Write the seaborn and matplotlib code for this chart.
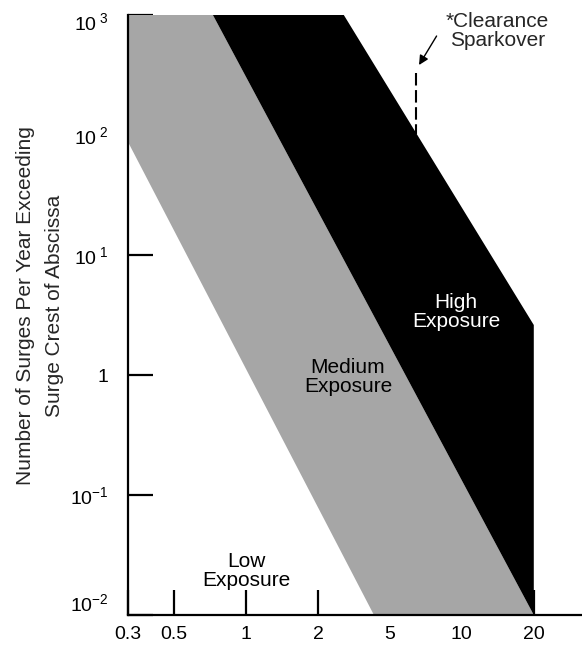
#!/usr/bin/env python3
# -*- coding: utf-8 -*-
"""
Surge exposure chart: number of surges per year exceeding a crest value,
with low / medium / high exposure bands.
"""

import numpy as np
import seaborn as sns
import matplotlib.pyplot as plt
from matplotlib.transforms import ScaledTranslation

# axis ticks
x_ticks = [0.3, 0.5, 1, 2, 5, 10, 20]
x_tick_labels = ['0.3', '0.5', '1', '2', '5', '10', '20']
y_ticks = [1e-2, 1e-1, 1, 1e1, 1e2, 1e3]
y_tick_labels = [r'$10^{-2}$', r'$10^{-1}$', '1',
                 r'$10^{\ 1}$', r'$10^{\ 2}$', r'$10^{\ 3}$']

# band boundaries (surge crest, surges per year)
low_med_x = [0.3, 4.08]
low_med_y = [87.5, 0.01]
med_high_x = [0.727, 20]
med_high_y = [1000, 0.01]
high_edge_x = [2.78, 20, 20]
high_edge_y = [1000, 2.61, 0.01]

# clearance sparkover marker
sparkover_x = [6.44, 6.44]
sparkover_y = [329, 102]
arrow_tail = (7.84, 668)
arrow_head = (6.62, 383)

region_names = ['Low\nExposure', 'Medium\nExposure', 'High\nExposure']
region_x = [1.0, 2.93, 9.45]
region_y = [0.0233, 0.962, 3.35]

# the printed x axis is not a true log axis: 1-2-5-10-20 are evenly spaced
scale_knots = [0.1, 0.3, 0.5, 1, 2, 5, 10, 20, 100]
scale_pos = [-2.0, -0.64, 0, 1, 2, 3, 4, 5, 7.3]


def forward(x):
    with np.errstate(divide='ignore', invalid='ignore'):
        lx = np.log10(np.asarray(x, dtype=float))
    return np.interp(lx, np.log10(scale_knots), scale_pos)


def inverse(p):
    return 10 ** np.interp(p, scale_pos, np.log10(scale_knots))


def main():
    sns.set_style('ticks')
    plt.rcParams['font.family'] = ['Liberation Sans', 'DejaVu Sans']
    plt.rcParams['mathtext.fontset'] = 'custom'
    plt.rcParams['mathtext.rm'] = 'Liberation Sans'
    plt.rcParams['mathtext.it'] = 'Liberation Sans'
    plt.rcParams['mathtext.default'] = 'regular'

    fig = plt.figure(figsize=(5.82, 6.46), dpi=100)
    ax = fig.add_axes([128 / 582, 31 / 646, 454 / 582, 600 / 646])

    ax.set_xscale('function', functions=(forward, inverse))
    ax.set_yscale('log')
    ax.set_xlim(0.3, inverse(5.67))
    ax.set_ylim(1e-2, 1e3)

    # medium band (gray) and high band (black)
    gray_x = [low_med_x[0], 0.3, med_high_x[0], med_high_x[1], low_med_x[1]]
    gray_y = [low_med_y[0], 1000, med_high_y[0], med_high_y[1], low_med_y[1]]
    ax.fill(gray_x, gray_y, color='#a6a6a6', lw=0, zorder=1)
    black_x = [med_high_x[0]] + high_edge_x + [med_high_x[1]]
    black_y = [med_high_y[0]] + high_edge_y + [med_high_y[1]]
    ax.fill(black_x, black_y, color='black', lw=0, zorder=1)

    ax.plot(sparkover_x, sparkover_y, color='black', lw=1.5,
            dashes=(6, 2.2), zorder=2)
    ax.annotate('', xy=arrow_head, xytext=arrow_tail, annotation_clip=False,
                arrowprops=dict(arrowstyle='-|>', color='black', lw=1,
                                mutation_scale=14, shrinkA=0, shrinkB=0))
    ax.text(14.05, 735, '*Clearance\nSparkover', ha='center', va='center',
            fontsize=15, linespacing=1.0)

    colors = ['black', 'black', 'white']
    for name, x, y, c in zip(region_names, region_x, region_y, colors):
        ax.text(x, y, name, ha='center', va='center', fontsize=15,
                linespacing=1.0, color=c)

    ax.set_xticks(x_ticks)
    ax.set_xticklabels(x_tick_labels)
    ax.xaxis.set_minor_locator(plt.NullLocator())
    ax.set_yticks(y_ticks)
    ax.set_yticklabels(y_tick_labels)
    ax.yaxis.set_minor_locator(plt.NullLocator())
    ax.tick_params(direction='in', length=18, width=1.6, labelsize=14,
                   color='black', labelcolor='black')
    ax.tick_params(axis='x', pad=8)
    ax.tick_params(axis='y', pad=14)
    ax.set_axisbelow(True)

    # the end labels of the y axis sit a little inside the axis range
    labels = ax.get_yticklabels()
    labels[0].set_transform(labels[0].get_transform()
                            + ScaledTranslation(0, 13 / 100, fig.dpi_scale_trans))
    labels[-1].set_transform(labels[-1].get_transform()
                             + ScaledTranslation(0, -6 / 100, fig.dpi_scale_trans))

    sns.despine(ax=ax)
    for side in ['left', 'bottom']:
        ax.spines[side].set_linewidth(1.6)
        ax.spines[side].set_color('black')
        ax.spines[side].set_zorder(3)

    fig.text(40 / 582, 0.527,
             'Number of Surges Per Year Exceeding\nSurge Crest of Abscissa',
             rotation=90, ha='center', va='center', fontsize=15,
             linespacing=1.7)

    fig.savefig('out.png', dpi=100)
    plt.close(fig)


if __name__ == "__main__":
    main()
